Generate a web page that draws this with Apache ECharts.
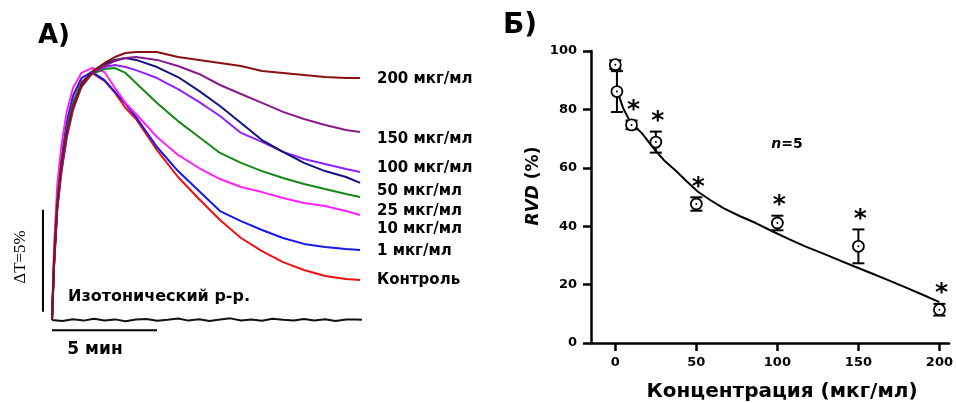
<!DOCTYPE html>
<html>
<head>
<meta charset="utf-8">
<script src="https://cdn.jsdelivr.net/npm/echarts@6.0.0/dist/echarts.min.js"></script>
<style>
html, body { margin: 0; padding: 0; background: #fff; }
#main { width: 956px; height: 403px; }
</style>
</head>
<body>
<div id="main"></div>
<script>
// A) traces: time in min, dT in %
var times = [0, 0.1, 0.25, 0.45, 0.7, 1.0, 1.4, 1.9, 2.5, 3.0, 3.5, 4, 5, 6, 7, 8, 9, 10, 11, 12, 13, 14, 14.67];
var control = [0, 2.84, 5.64, 7.60, 9.31, 10.64, 11.67, 12.11, 11.72, 11.13, 10.39, 9.85, 8.33, 7.01, 5.93, 4.90, 4.02, 3.38, 2.84, 2.45, 2.16, 2.01, 1.96];
var c1 = [0, 3.19, 5.98, 7.94, 9.71, 10.98, 11.86, 12.16, 11.76, 11.18, 10.59, 9.95, 8.48, 7.30, 6.32, 5.34, 4.85, 4.41, 4.02, 3.73, 3.58, 3.48, 3.43];
var c10 = [0, 3.68, 6.62, 8.58, 10.20, 11.37, 12.11, 12.35, 12.16, 11.37, 10.64, 10.10, 8.97, 8.09, 7.45, 6.91, 6.52, 6.27, 5.98, 5.74, 5.59, 5.34, 5.15];
var c25 = [0, 3.04, 5.88, 7.75, 9.41, 10.69, 11.57, 12.06, 12.30, 12.35, 12.11, 11.62, 10.64, 9.75, 8.97, 8.19, 7.70, 7.30, 6.96, 6.67, 6.42, 6.18, 6.03];
var c100 = [0, 2.84, 5.64, 7.55, 9.22, 10.49, 11.47, 12.11, 12.40, 12.50, 12.40, 12.25, 11.86, 11.32, 10.69, 10.00, 9.17, 8.73, 8.24, 7.89, 7.65, 7.40, 7.25];
var c50 = [0, 2.75, 5.49, 7.35, 9.02, 10.39, 11.52, 12.16, 12.55, 12.75, 12.84, 12.75, 12.40, 11.91, 11.23, 10.49, 9.66, 8.82, 8.24, 7.70, 7.30, 7.01, 6.72];
var c150 = [0, 2.65, 5.39, 7.25, 8.92, 10.29, 11.42, 12.06, 12.45, 12.70, 12.84, 12.89, 12.75, 12.45, 12.06, 11.52, 11.08, 10.64, 10.20, 9.85, 9.56, 9.31, 9.22];
var c200 = [0, 2.84, 5.69, 7.65, 9.22, 10.49, 11.47, 12.16, 12.60, 12.89, 13.09, 13.14, 13.14, 12.89, 12.75, 12.60, 12.45, 12.21, 12.11, 12.01, 11.91, 11.86, 11.86];

var isoTimes = [0, 0.5, 1, 1.5, 2, 2.5, 3, 3.5, 4, 4.5, 5, 5.5, 6, 6.5, 7, 7.5, 8, 8.5, 9, 9.5, 10, 10.5, 11, 11.5, 12, 12.5, 13, 13.5, 14, 14.5, 14.76];
var iso = [0, -0.05, 0.04, -0.03, 0.06, -0.02, 0.03, -0.06, 0.02, 0.05, -0.04, 0.01, 0.07, -0.03, 0.04, -0.05, 0.02, 0.08, -0.02, 0.03, -0.04, 0.06, 0.01, -0.03, 0.05, -0.02, 0.04, -0.05, 0.02, 0.03, 0.01];

var traceLabels = ['200 мкг/мл', '150 мкг/мл', '100 мкг/мл', '50 мкг/мл', '25 мкг/мл', '10 мкг/мл', '1 мкг/мл', 'Контроль'];
var traceLabelY = [79, 139, 168, 191, 211, 229, 251, 280];

// Б) RVD vs concentration
var conc = [0, 1, 10, 25, 50, 100, 150, 200];
var rvd = [95.3, 86.1, 74.7, 68.8, 47.6, 41.1, 33.1, 11.4];
var rvdErr = [1.5, 7, 1.5, 3.6, 2.3, 2.5, 5.8, 2];
var signif = [0, 0, 1, 1, 1, 1, 1, 1];
var fitX = [2, 5, 8.5, 12.5, 16.5, 20.5, 24.5, 30, 37, 44, 51, 59, 67, 77, 87, 97.5, 107.5, 117.5, 128, 138, 148, 158, 168, 178, 189, 200];
var fitY = [85, 80.2, 76.5, 74.0, 71.8, 68.9, 66.1, 62.6, 59.2, 55.4, 51.8, 48.8, 46.1, 43.4, 41.0, 38.1, 35.5, 33.0, 30.7, 28.4, 26.1, 23.9, 21.6, 19.3, 16.7, 14.0];
var xTicks = [0, 50, 100, 150, 200];

var FONT = 'DejaVu Sans';

function pairs(xs, ys) {
    return xs.map(function (x, i) { return [x, ys[i]]; });
}

function trace(name, values, color) {
    return {
        name: name,
        type: 'line',
        xAxisIndex: 0,
        yAxisIndex: 0,
        data: pairs(times, values),
        showSymbol: false,
        lineStyle: {color: color, width: 2},
        silent: true,
        z: 3
    };
}

function renderPoint(params, api) {
    var x = api.value(0), y = api.value(1), e = api.value(2), s = api.value(3);
    var c = api.coord([x, y]);
    var hi = api.coord([x, y + e]);
    var lo = api.coord([x, y - e]);
    var w = 6;
    var ls = {stroke: '#000', lineWidth: 2};
    var kids = [
        {type: 'line', shape: {x1: c[0], y1: hi[1], x2: c[0], y2: lo[1]}, style: ls},
        {type: 'line', shape: {x1: c[0] - w, y1: hi[1], x2: c[0] + w, y2: hi[1]}, style: ls},
        {type: 'line', shape: {x1: c[0] - w, y1: lo[1], x2: c[0] + w, y2: lo[1]}, style: ls},
        {type: 'circle', shape: {cx: c[0], cy: c[1], r: 5.5}, style: {fill: '#fff', stroke: '#000', lineWidth: 1.8}},
        {type: 'circle', shape: {cx: c[0], cy: c[1], r: 1}, style: {fill: '#000'}}
    ];
    if (s) {
        kids.push({
            type: 'text',
            x: c[0] + 2,
            y: hi[1] - 10,
            style: {text: '*', fill: '#000', font: 'bold 25px ' + FONT, align: 'center', verticalAlign: 'middle'}
        });
    }
    return {type: 'group', children: kids};
}

var graphics = [
    {type: 'text', left: 38, top: 23, style: {text: 'A)', fill: '#000', font: 'bold 26px ' + FONT}},
    {type: 'text', left: 503, top: 12, style: {text: 'Б)', fill: '#000', font: 'bold 28px ' + FONT}},
    {type: 'text', x: 68, y: 297, style: {text: 'Изотонический р-р.', fill: '#000', font: 'bold 16px ' + FONT, verticalAlign: 'middle'}},
    {type: 'text', x: 95, y: 350, style: {text: '5 мин', fill: '#000', font: 'bold 17px ' + FONT, align: 'center', verticalAlign: 'middle'}},
    {type: 'text', x: 21, y: 257, rotation: Math.PI / 2, style: {text: 'ΔT=5%', fill: '#000', font: '17px "Liberation Serif"', align: 'center', verticalAlign: 'middle'}},
    {type: 'text', x: 534, y: 186, rotation: Math.PI / 2, style: {
        text: '{i|RVD} (%)', fill: '#000', font: 'bold 17px ' + FONT, align: 'center', verticalAlign: 'middle',
        rich: {i: {fontStyle: 'italic', fontWeight: 'bold', fontSize: 17, fontFamily: FONT}}
    }},
    {type: 'text', x: 787, y: 144, style: {
        text: '{i|n}=5', fill: '#000', font: 'bold 14px ' + FONT, align: 'center', verticalAlign: 'middle',
        rich: {i: {fontStyle: 'italic', fontWeight: 'bold', fontSize: 14, fontFamily: FONT}}
    }},
    {type: 'text', x: 782, y: 392, style: {text: 'Концентрация (мкг/мл)', fill: '#000', font: 'bold 20px ' + FONT, align: 'center', verticalAlign: 'middle'}}
];
traceLabels.forEach(function (t, i) {
    graphics.push({type: 'text', x: 377, y: traceLabelY[i], style: {text: t, fill: '#000', font: 'bold 15px ' + FONT, verticalAlign: 'middle'}});
});

var option = {
    backgroundColor: '#fff',
    animation: false,
    grid: [
        {left: 41.5, top: 34.4, width: 325.5, height: 306},
        {left: 591, top: 51, width: 365, height: 292}
    ],
    xAxis: [
        {gridIndex: 0, type: 'value', min: -0.5, max: 15, show: false},
        {
            gridIndex: 1, type: 'value', min: -15, max: 206,
            axisLine: {onZero: false, lineStyle: {color: '#000', width: 2.5}},
            axisTick: {show: true, length: 8, lineStyle: {color: '#000', width: 2.5}, customValues: xTicks},
            axisLabel: {color: '#000', fontFamily: FONT, fontWeight: 'bold', fontSize: 13, margin: 13, customValues: xTicks},
            splitLine: {show: false}
        }
    ],
    yAxis: [
        {gridIndex: 0, type: 'value', min: -1, max: 14, show: false},
        {
            gridIndex: 1, type: 'value', min: 0, max: 100, interval: 20,
            axisLine: {show: true, onZero: false, lineStyle: {color: '#000', width: 2.5}},
            axisTick: {show: true, length: 8, lineStyle: {color: '#000', width: 2.5}},
            axisLabel: {color: '#000', fontFamily: FONT, fontWeight: 'bold', fontSize: 13, margin: 14},
            splitLine: {show: false}
        }
    ],
    graphic: graphics,
    series: [
        trace('Контроль', control, '#ee1111'),
        trace('1 мкг/мл', c1, '#1818e8'),
        trace('10 мкг/мл', c10, '#ff22ff'),
        trace('25 мкг/мл', c25, '#168816'),
        trace('100 мкг/мл', c100, '#9022ff'),
        trace('50 мкг/мл', c50, '#14147e'),
        trace('150 мкг/мл', c150, '#8a1a8a'),
        trace('200 мкг/мл', c200, '#8b1010'),
        {
            name: 'Изотонический р-р.',
            type: 'line', xAxisIndex: 0, yAxisIndex: 0,
            data: pairs(isoTimes, iso),
            showSymbol: false,
            lineStyle: {color: '#111', width: 2},
            silent: true
        },
        {
            name: 'scale dT',
            type: 'line', xAxisIndex: 0, yAxisIndex: 0,
            data: [[-0.43, 0.4], [-0.43, 5.4]],
            showSymbol: false,
            lineStyle: {color: '#000', width: 2},
            silent: true
        },
        {
            name: 'scale t',
            type: 'line', xAxisIndex: 0, yAxisIndex: 0,
            data: [[0, -0.5], [5, -0.5]],
            showSymbol: false,
            lineStyle: {color: '#000', width: 2},
            silent: true
        },
        {
            name: 'fit',
            type: 'line', xAxisIndex: 1, yAxisIndex: 1,
            data: pairs(fitX, fitY),
            showSymbol: false,
            lineStyle: {color: '#000', width: 2},
            silent: true
        },
        {
            name: 'RVD',
            type: 'custom', xAxisIndex: 1, yAxisIndex: 1,
            data: conc.map(function (c, i) { return [c, rvd[i], rvdErr[i], signif[i]]; }),
            renderItem: renderPoint,
            clip: false,
            silent: true,
            z: 5
        }
    ]
};

var myChart = echarts.init(document.getElementById('main'));
myChart.setOption(option);
</script>
</body>
</html>
